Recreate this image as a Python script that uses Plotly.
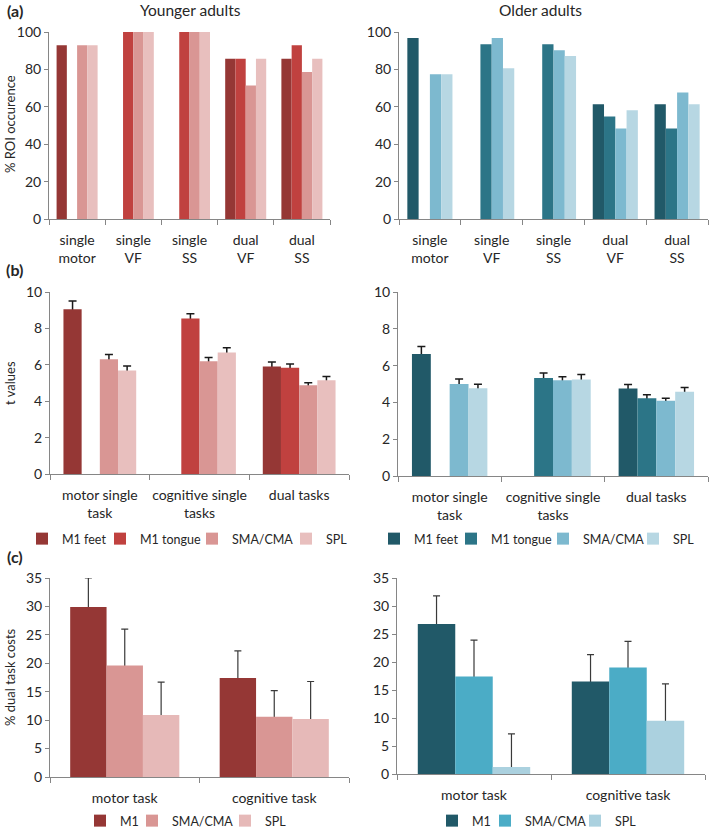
import plotly.graph_objects as go

W, H = 709, 830
FONT = "Lato"
TXT = "#262626"
AXC = "#868686"

# ---------------- data ----------------
series_b = ["M1 feet", "M1 tongue", "SMA/CMA", "SPL"]
series_c = ["M1", "SMA/CMA", "SPL"]

cats_a = ["single<br>motor", "single<br>VF", "single<br>SS", "dual<br>VF", "dual<br>SS"]
cats_b = ["motor single<br>task", "cognitive single<br>tasks", "dual tasks"]
cats_c = ["motor task", "cognitive task"]

# (a) % ROI occurrence
young_a_m1feet = [92.9, None, None, 85.7, 85.7]
young_a_m1tongue = [None, 100, 100, 85.7, 92.9]
young_a_sma = [92.9, 100, 100, 71.4, 78.6]
young_a_spl = [92.9, 100, 100, 85.7, 85.7]

old_a_m1feet = [96.8, None, None, 61.3, 61.3]
old_a_m1tongue = [None, 93.5, 93.5, 54.8, 48.4]
old_a_sma = [77.4, 96.8, 90.3, 48.4, 67.7]
old_a_spl = [77.4, 80.6, 87.1, 58.1, 61.3]

# (b) t values and error
young_b_m1feet = [9.05, None, 5.91]
young_b_m1feet_err = [0.45, None, 0.24]
young_b_m1tongue = [None, 8.54, 5.84]
young_b_m1tongue_err = [None, 0.26, 0.20]
young_b_sma = [6.31, 6.20, 4.88]
young_b_sma_err = [0.26, 0.20, 0.14]
young_b_spl = [5.69, 6.68, 5.15]
young_b_spl_err = [0.24, 0.25, 0.21]

old_b_m1feet = [6.63, None, 4.76]
old_b_m1feet_err = [0.41, None, 0.21]
old_b_m1tongue = [None, 5.33, 4.22]
old_b_m1tongue_err = [None, 0.27, 0.20]
old_b_sma = [5.00, 5.20, 4.09]
old_b_sma_err = [0.27, 0.20, 0.13]
old_b_spl = [4.77, 5.25, 4.58]
old_b_spl_err = [0.22, 0.26, 0.23]

# (c) % dual task costs and error
young_c_m1 = [29.9, 17.4]
young_c_m1_err = [5.1, 4.8]
young_c_sma = [19.6, 10.6]
young_c_sma_err = [6.4, 4.6]
young_c_spl = [10.9, 10.2]
young_c_spl_err = [5.8, 6.6]

old_c_m1 = [26.8, 16.5]
old_c_m1_err = [5.0, 4.8]
old_c_sma = [17.4, 19.0]
old_c_sma_err = [6.5, 4.7]
old_c_spl = [1.25, 9.5]
old_c_spl_err = [5.9, 6.6]

# ---------------- styles ----------------
red4 = ["#953735", "#C0413F", "#D99694", "#E8BFBE"]
teal4 = ["#215968", "#2C7587", "#7DB9CF", "#B7D7E3"]
red3 = ["#953735", "#D99694", "#E6B9B8"]
teal3 = ["#215968", "#4BACC6", "#ABD1DF"]


def xdom(l, r):
    return [l / W, r / W]


def ydom(top, bottom):
    return [1 - bottom / H, 1 - top / H]


fig = go.Figure()

# ---- panel (a): no error bars
for vals, col in zip([young_a_m1feet, young_a_m1tongue, young_a_sma, young_a_spl], red4):
    fig.add_trace(go.Bar(x=cats_a, y=vals, marker=dict(color=col, line=dict(width=0)),
                         xaxis="x", yaxis="y", showlegend=False, hoverinfo="skip"))
for vals, col in zip([old_a_m1feet, old_a_m1tongue, old_a_sma, old_a_spl], teal4):
    fig.add_trace(go.Bar(x=cats_a, y=vals, marker=dict(color=col, line=dict(width=0)),
                         xaxis="x2", yaxis="y2", showlegend=False, hoverinfo="skip"))


def add_err_panel(cats, vals_list, err_list, names, colors, base_ax, over_ax,
                  legends, errstyle):
    # base layer: transparent bars carrying the error bars (drawn below)
    for vals, errs in zip(vals_list, err_list):
        minus = [None if v is None else v / 2 for v in vals]
        fig.add_trace(go.Bar(
            x=cats, y=vals, xaxis="x" + base_ax, yaxis="y" + base_ax,
            marker=dict(color="rgba(0,0,0,0)", line=dict(width=0)),
            error_y=dict(type="data", symmetric=False, array=errs, arrayminus=minus,
                         visible=True, **errstyle),
            showlegend=False, hoverinfo="skip"))
    # overlay layer: the coloured bars (drawn on top, hiding the lower part of the error bars)
    for vals, name, col, lg in zip(vals_list, names, colors, legends):
        fig.add_trace(go.Bar(
            x=cats, y=vals, xaxis="x" + over_ax, yaxis="y" + over_ax,
            marker=dict(color=col, line=dict(width=0)), name=name,
            legend=lg, showlegend=True, hoverinfo="skip"))


err_b = dict(color="#1A1A1A", thickness=1.5, width=4)
err_c = dict(color="#3A3A3A", thickness=1.2, width=3.5)

add_err_panel(cats_b,
              [young_b_m1feet, young_b_m1tongue, young_b_sma, young_b_spl],
              [young_b_m1feet_err, young_b_m1tongue_err, young_b_sma_err, young_b_spl_err],
              series_b, red4, "3", "7", ["legend", "legend2", "legend3", "legend4"], err_b)
add_err_panel(cats_b,
              [old_b_m1feet, old_b_m1tongue, old_b_sma, old_b_spl],
              [old_b_m1feet_err, old_b_m1tongue_err, old_b_sma_err, old_b_spl_err],
              series_b, teal4, "4", "8", ["legend5", "legend6", "legend7", "legend8"], err_b)
add_err_panel(cats_c,
              [young_c_m1, young_c_sma, young_c_spl],
              [young_c_m1_err, young_c_sma_err, young_c_spl_err],
              series_c, red3, "5", "9", ["legend9", "legend10", "legend11"], err_c)
add_err_panel(cats_c,
              [old_c_m1, old_c_sma, old_c_spl],
              [old_c_m1_err, old_c_sma_err, old_c_spl_err],
              series_c, teal3, "6", "10", ["legend12", "legend13", "legend14"], err_c)


def xax(dom, n, anchor, standoff):
    return dict(domain=dom, anchor=anchor, type="category", range=[-0.5, n - 0.5],
                showline=True, linecolor=AXC, linewidth=1, ticks="outside",
                tickson="boundaries", ticklen=5, tickcolor=AXC, tickwidth=1,
                showgrid=False, zeroline=False, fixedrange=True, tickangle=0,
                automargin=False, ticklabelstandoff=standoff,
                tickfont=dict(family=FONT, size=14, color=TXT))


def yax(dom, rng, dtick, anchor):
    return dict(domain=dom, anchor=anchor, range=rng, dtick=dtick, tick0=0,
                showline=True, linecolor=AXC, linewidth=1, ticks="outside",
                ticklen=4, tickcolor=AXC, tickwidth=1, showgrid=False,
                zeroline=False, fixedrange=True, automargin=False,
                tickfont=dict(family=FONT, size=14, color=TXT))


def hidden_x(over, n):
    return dict(overlaying=over, type="category", range=[-0.5, n - 0.5], visible=False,
                showgrid=False, zeroline=False)


def hidden_y(over, rng):
    return dict(overlaying=over, range=rng, visible=False, showgrid=False, zeroline=False)


layout = dict(
    width=W, height=H,
    margin=dict(l=0, r=0, t=0, b=0, autoexpand=False),
    paper_bgcolor="white", plot_bgcolor="rgba(0,0,0,0)",
    barmode="group", bargap=0.27, bargroupgap=0,
    font=dict(family=FONT, size=14, color=TXT),
    xaxis=xax(xdom(49, 330), 5, "y", 8),
    yaxis=yax(ydom(32, 219), [0, 100], 20, "x"),
    xaxis2=xax(xdom(399, 708), 5, "y2", 8),
    yaxis2=yax(ydom(32, 219), [0, 100], 20, "x2"),
    xaxis3=xax(xdom(50, 349), 3, "y3", 8),
    yaxis3=yax(ydom(292, 474), [0, 10], 2, "x3"),
    xaxis4=xax(xdom(398, 708), 3, "y4", 8),
    yaxis4=yax(ydom(292, 476), [0, 10], 2, "x4"),
    xaxis5=xax(xdom(50, 349), 2, "y5", 8),
    yaxis5=yax(ydom(578, 777), [0, 35], 5, "x5"),
    xaxis6=xax(xdom(397, 705), 2, "y6", 8),
    yaxis6=yax(ydom(578, 774), [0, 35], 5, "x6"),
    xaxis7=hidden_x("x3", 3), yaxis7=hidden_y("y3", [0, 10]),
    xaxis8=hidden_x("x4", 3), yaxis8=hidden_y("y4", [0, 10]),
    xaxis9=hidden_x("x5", 2), yaxis9=hidden_y("y5", [0, 35]),
    xaxis10=hidden_x("x6", 2), yaxis10=hidden_y("y6", [0, 35]),
)

# per-item legends, placed to match the reference legend rows (mx = swatch x in reference)
legend_pos = {
    "legend": (55, 539), "legend2": (133, 539), "legend3": (225, 539), "legend4": (319, 539),
    "legend5": (407, 539), "legend6": (484, 539), "legend7": (576, 539), "legend8": (666, 539),
    "legend9": (113, 821), "legend10": (165, 821), "legend11": (258, 821),
    "legend12": (465, 821), "legend13": (518, 821), "legend14": (608, 821),
}
for key, (mx, my) in legend_pos.items():
    layout[key] = dict(x=(mx - 33) / W, y=1 - my / H, xanchor="left", yanchor="middle",
                       orientation="h", bgcolor="rgba(0,0,0,0)", borderwidth=0,
                       itemwidth=30, font=dict(family=FONT, size=12.5, color=TXT),
                       itemclick=False, itemdoubleclick=False)

fig.update_layout(**layout)

# titles, panel letters and axis titles
ann = [
    dict(text="Younger adults", x=190 / W, y=1 - 10 / H, font=dict(size=15.5)),
    dict(text="Older adults", x=540 / W, y=1 - 10 / H, font=dict(size=15.5)),
    dict(text="<b>(a)</b>", x=15 / W, y=1 - 10 / H, font=dict(size=16)),
    dict(text="<b>(b)</b>", x=15 / W, y=1 - 269 / H, font=dict(size=16)),
    dict(text="<b>(c)</b>", x=15 / W, y=1 - 556 / H, font=dict(size=16)),
    dict(text="% ROI occurence", x=10 / W, y=1 - 124 / H, textangle=-90, font=dict(size=13)),
    dict(text="t values", x=10 / W, y=1 - 383 / H, textangle=-90, font=dict(size=13)),
    dict(text="% dual task costs", x=10 / W, y=1 - 677 / H, textangle=-90, font=dict(size=13)),
]
for a in ann:
    a.update(xref="paper", yref="paper", showarrow=False, xanchor="center", yanchor="middle")
    a["font"].update(family=FONT, color=TXT)
fig.update_layout(annotations=ann)

fig.write_html("out.html", config={"displayModeBar": False},
               post_script="document.body.style.margin='0';document.body.style.overflow='hidden';")
